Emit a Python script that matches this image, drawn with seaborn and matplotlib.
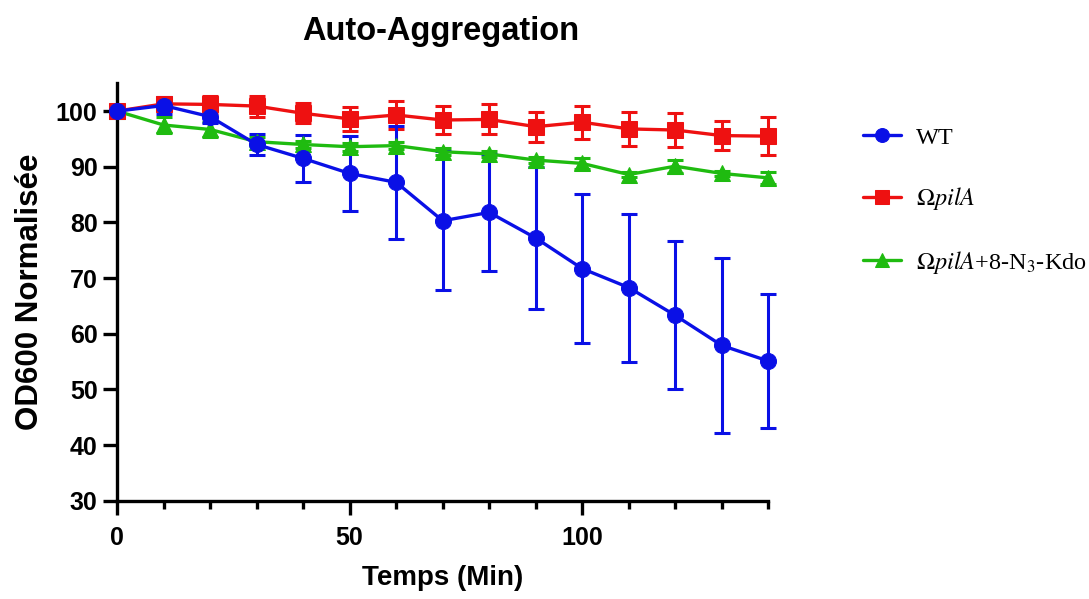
import numpy as np
import pandas as pd
import seaborn as sns
import matplotlib
matplotlib.use("Agg")
import matplotlib.pyplot as plt
from matplotlib.ticker import MultipleLocator

time = [0, 10, 20, 30, 40, 50, 60, 70, 80, 90, 100, 110, 120, 130, 140]
wt_mean = [100, 101.0, 99.0, 94.0, 91.5, 88.8, 87.2, 80.3, 81.8, 77.2, 71.7, 68.3, 63.3, 57.9, 55.1]
wt_err = [0, 1.6, 1.2, 1.8, 4.2, 6.8, 10.2, 12.5, 10.5, 12.7, 13.4, 13.3, 13.3, 15.7, 12.1]
pila_mean = [100, 101.3, 101.2, 100.9, 99.6, 98.6, 99.3, 98.4, 98.5, 97.2, 98.0, 96.8, 96.6, 95.6, 95.5]
pila_err = [0, 1.0, 1.5, 1.9, 1.8, 2.1, 2.6, 2.6, 2.7, 2.7, 3.0, 3.1, 3.0, 2.6, 3.4]
kdo_mean = [100, 97.5, 96.7, 94.5, 94.0, 93.6, 93.8, 92.7, 92.3, 91.2, 90.6, 88.6, 90.1, 88.8, 88.0]
kdo_err = [0, 1.5, 1.3, 0.8, 0.6, 0.7, 0.6, 0.6, 0.6, 0.5, 1.0, 0.5, 1.2, 0.5, 1.1]

labels = ["WT", r"$\Omega\mathit{pilA}$", r"$\Omega\mathit{pilA}$+8-N$_3$-Kdo"]
colors = ["#0a10e6", "#ee1111", "#1fbb10"]
markers = ["o", "s", "^"]

sns.set_style("ticks")
plt.rcParams['font.family'] = ['Liberation Sans', 'DejaVu Sans']
plt.rcParams['mathtext.fontset'] = 'stix'
plt.rcParams['text.color'] = 'black'
plt.rcParams['axes.labelcolor'] = 'black'
plt.rcParams['xtick.color'] = 'black'
plt.rcParams['ytick.color'] = 'black'

df = pd.concat([
    pd.DataFrame({"time": time, "value": m, "err": e, "strain": lab})
    for m, e, lab in [(wt_mean, wt_err, labels[0]), (pila_mean, pila_err, labels[1]), (kdo_mean, kdo_err, labels[2])]
])

fig = plt.figure(figsize=(10.89, 5.99), dpi=100)
ax = fig.add_axes([0.1075, 0.164, 0.598, 0.697])

for lab, col, mk in reversed(list(zip(labels, colors, markers))):
    sub = df[df.strain == lab]
    eb = ax.errorbar(sub.time, sub.value, yerr=sub.err, fmt='none', ecolor=col,
                     elinewidth=2.2, capsize=6, capthick=2.2, zorder=2)
    for art in eb.lines[1] + eb.lines[2]:
        art.set_clip_on(False)
    sns.lineplot(data=sub, x="time", y="value", color=col, marker=mk, markersize=11.5,
                 markeredgecolor=col, linewidth=2.4, ax=ax, label=lab, zorder=3, clip_on=False)

ax.set_xlim(0, 140)
ax.set_ylim(30, 105)
ax.set_yticks([30, 40, 50, 60, 70, 80, 90, 100])
ax.xaxis.set_major_locator(MultipleLocator(50))
ax.xaxis.set_minor_locator(MultipleLocator(10))
for s in ["top", "right"]:
    ax.spines[s].set_visible(False)
for s in ["left", "bottom"]:
    ax.spines[s].set_linewidth(2.4)
    ax.spines[s].set_color("black")
ax.tick_params(axis='y', which='major', length=10, width=2.4, labelsize=18, pad=4)
ax.tick_params(axis='x', which='major', length=10, width=2.4, labelsize=18, pad=8)
ax.tick_params(axis='x', which='minor', length=6, width=2.4)
for t in ax.get_xticklabels() + ax.get_yticklabels():
    t.set_fontweight('bold')

ax.set_xlabel("Temps (Min)", fontsize=20, fontweight='bold', labelpad=11)
ax.set_ylabel("OD600 Normalisée", fontsize=22.5, fontweight='bold', labelpad=8)
fig.text(0.405, 0.948, "Auto-Aggregation", ha='center', va='center', fontsize=23.5, fontweight='bold')

h, l = ax.get_legend_handles_labels()
order = [l.index(x) for x in labels]
leg = ax.legend([h[i] for i in order], [l[i] for i in order], loc='upper left',
                bbox_to_anchor=(0.772, 0.825), bbox_transform=fig.transFigure,
                frameon=False, labelspacing=1.5, handlelength=1.6, handletextpad=0.6,
                prop={'family': ['Liberation Serif', 'DejaVu Serif'], 'size': 17.5})
for line in leg.get_lines():
    line.set_markersize(10)

fig.savefig("out.png", dpi=100, facecolor='white')
